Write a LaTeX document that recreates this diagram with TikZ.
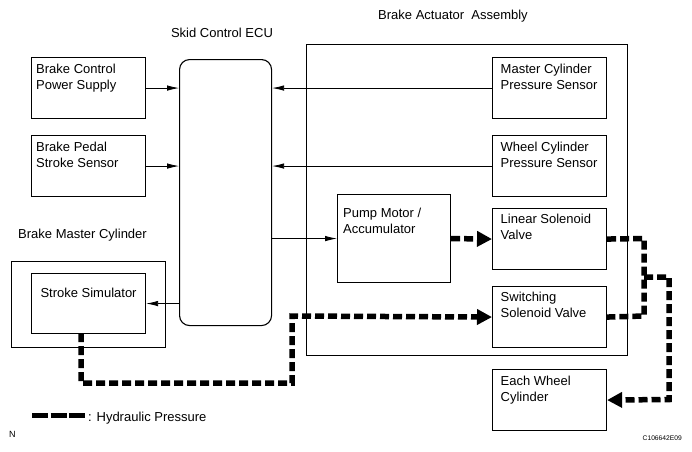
\documentclass[tikz,border=0pt]{standalone}
\usepackage{fontspec}
\setmainfont{Liberation Sans}
\usetikzlibrary{arrows.meta,calc}
\begin{document}
\begin{tikzpicture}[x=1pt,y=-1pt,
  blk/.style={draw, line width=1.1pt, anchor=north west, inner sep=0pt, minimum width=114pt, minimum height=61pt},
  txt/.style={inner sep=0pt, align=left, font=\fontsize{13}{16}\selectfont, anchor=north west},
  ttl/.style={inner sep=0pt, font=\fontsize{13}{16}\selectfont},
  sig/.style={line width=0.8pt, -{Latex[length=12pt,width=5.5pt]}},
  hyd/.style={line width=5.5pt, dash pattern=on 9pt off 4pt},
  hydarrow/.style={hyd, -{Triangle[length=15pt,width=15pt]}}
]
\useasboundingbox (0,0) rectangle (692,451);
% outer boxes
\node[draw, line width=1.1pt, anchor=north west, inner sep=0pt, minimum width=321pt, minimum height=311pt] (baa) at (306,44) {};
\node[draw, line width=1.1pt, anchor=north west, inner sep=0pt, minimum width=154pt, minimum height=86pt] (bmc) at (11,261) {};
% ECU
\node[draw, line width=1.1pt, rounded corners=10pt, anchor=north west, inner sep=0pt, minimum width=92pt, minimum height=266pt] (ecu) at (179,59) {};
% blocks
\node[blk] (bcps) at (31,57) {};
\node[blk] (bpss) at (31,135) {};
\node[blk] (mcps) at (492,57) {};
\node[blk] (wcps) at (492,135) {};
\node[blk, minimum width=113pt, minimum height=88pt] (pump) at (337,194) {};
\node[blk] (lsv) at (492,208) {};
\node[blk] (ssv) at (492,286) {};
\node[blk] (ewc) at (492,369) {};
\node[blk, minimum height=60pt] (ss) at (31,273) {};
% texts in blocks
\node[txt] (bcpst) at ([xshift=5pt,yshift=-6.5pt]bcps.north west) {Brake Control\\Power Supply};
\node[txt] (bpsst) at ([xshift=5pt,yshift=-6.5pt]bpss.north west) {Brake Pedal\\Stroke Sensor};
\node[txt] (mcpst) at ([xshift=8.5pt,yshift=-6.5pt]mcps.north west) {Master Cylinder\\Pressure Sensor};
\node[txt] (wcpst) at ([xshift=8.5pt,yshift=-6.5pt]wcps.north west) {Wheel Cylinder\\Pressure Sensor};
\node[txt] (pumpt) at ([xshift=6pt,yshift=-13.5pt]pump.north west) {Pump Motor /\\Accumulator};
\node[txt] (lsvt) at ([xshift=8.5pt,yshift=-6pt]lsv.north west) {Linear Solenoid\\Valve};
\node[txt] (ssvt) at ([xshift=8.5pt,yshift=-5.5pt]ssv.north west) {Switching\\Solenoid Valve};
\node[txt] (ewct) at ([xshift=8.5pt,yshift=-6.5pt]ewc.north west) {Each Wheel\\Cylinder};
\node[txt, anchor=north] (sst) at ([yshift=-14.5pt]ss.north) {Stroke Simulator};
% titles
\node[ttl, anchor=base] (ecut) at (222,37.3) {Skid Control ECU};
\node[ttl, anchor=base west] (baat) at (378,19) {Brake Actuator\ \ Assembly};
\node[ttl, anchor=base west] (bmct) at (18,238.3) {Brake Master Cylinder};
% signal arrows
\draw[sig] (bcps.east) -- (bcps.east -| ecu.west);
\draw[sig] (bpss.east) -- (bpss.east -| ecu.west);
\draw[sig] (mcps.west) -- (mcps.west -| ecu.east);
\draw[sig] (wcps.west) -- (wcps.west -| ecu.east);
\draw[sig] (pump.west -| ecu.east) -- (pump.west);
\draw[sig] (ss.east -| ecu.west) -- (ss.east);
% hydraulic lines
\coordinate (j1) at (644,238.5);
\coordinate (j2) at (644,316);
\coordinate (j3) at (644,277);
\coordinate (j4) at (669,277);
\coordinate (j5) at (669,399.5);
\coordinate (s1) at (81,333);
\coordinate (s2) at (81,383);
\coordinate (s3) at (292,383);
\coordinate (s4) at (292,316);
\draw[hydarrow] (pump.east) -- (lsv.west);
\draw[hyd] (lsv.east) -- (j1) -- (j2) -- (ssv.east);
\draw[hydarrow] (j3) -- (j4) -- (j5) -- (ewc.east);
\draw[hydarrow] (s1) -- (s2) -- (s3) -- (s4) -- (ssv.west);
% legend
\coordinate (l1) at (32,415.5);
\coordinate (l2) at (85,415.5);
\draw[line width=4.5pt, dash pattern=on 16pt off 2.5pt] (l1) -- (l2);
\node[ttl, anchor=base west] (legt) at (88,421) {: Hydraulic Pressure};
\node[inner sep=0pt, anchor=base west, font=\fontsize{9}{10}\selectfont] (nt) at (9,437) {N};
\node[inner sep=0pt, anchor=base east, font=\fontsize{6.7}{8}\selectfont] (code) at (682,440) {C106642E09};
\end{tikzpicture}
\end{document}
